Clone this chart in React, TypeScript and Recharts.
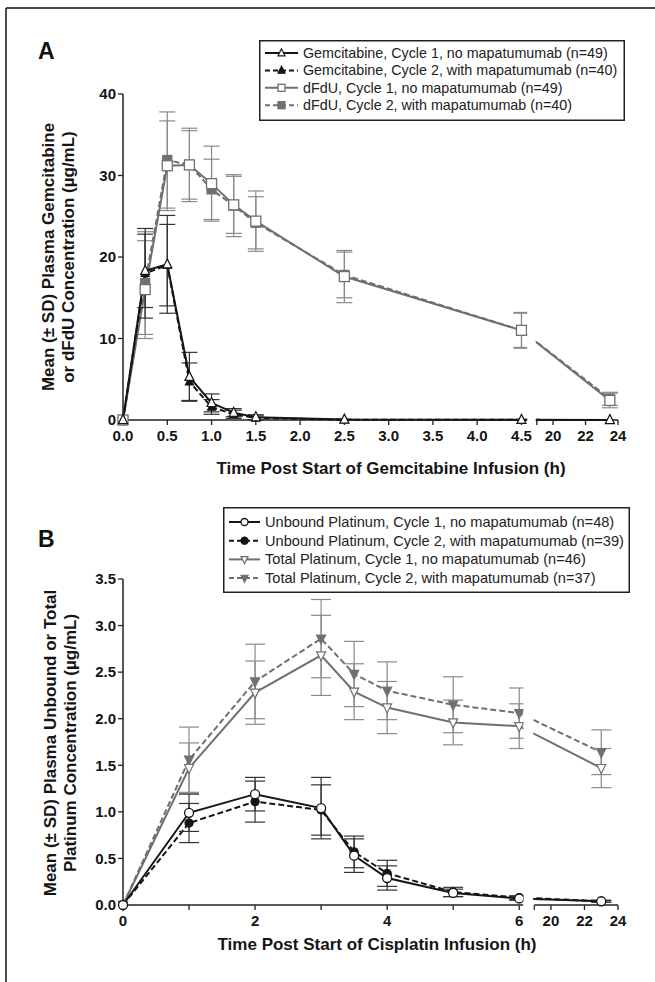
import React from 'react';
import { LineChart, Line, XAxis, YAxis, ErrorBar, ReferenceLine, ReferenceArea, Legend } from 'recharts';

// ---------- Panel A: gemcitabine / dFdU ----------
const timeA = [0, 0.25, 0.5, 0.75, 1.0, 1.25, 1.5, 2.5, 4.5, 23.5];
const gemC1 = [0, 18.3, 19.1, 5.3, 2.1, 0.9, 0.35, 0.05, 0.02, 0];
const gemC1Sd = [0, 4.5, 6.0, 3.0, 1.1, 0.5, 0.3, 0.05, 0.02, 0];
const gemC2 = [0, 18.0, 19.0, 4.7, 1.6, 0.7, 0.25, 0.03, 0.02, 0];
const gemC2Sd = [0, 5.5, 5.0, 2.3, 0.9, 0.5, 0.25, 0.03, 0.02, 0];
const dfduC1 = [0, 16.0, 31.2, 31.3, 29.0, 26.4, 24.4, 17.6, 11.0, 2.4];
const dfduC1Sd = [0, 6.0, 5.5, 4.2, 4.6, 3.5, 3.7, 3.2, 2.1, 0.9];
const dfduC2 = [0, 16.8, 31.9, 31.3, 28.3, 26.3, 24.2, 17.8, 11.0, 2.6];
const dfduC2Sd = [0, 6.3, 5.9, 4.5, 3.7, 3.8, 3.2, 2.8, 2.2, 0.8];
const xTicksA = [0, 0.5, 1, 1.5, 2, 2.5, 3, 3.5, 4, 4.5, 19, 20, 22, 24];
const xTickLabelsA = ['0.0', '0.5', '1.0', '1.5', '2.0', '2.5', '3.0', '3.5', '4.0', '4.5', '', '20', '22', '24'];
const yTicksA = [0, 10, 20, 30, 40];
const legendA = [
  'Gemcitabine, Cycle 1, no mapatumumab (n=49)',
  'Gemcitabine, Cycle 2, with mapatumumab (n=40)',
  'dFdU, Cycle 1, no mapatumumab (n=49)',
  'dFdU, Cycle 2, with mapatumumab (n=40)',
];

// ---------- Panel B: platinum ----------
const timeB = [0, 1, 2, 3, 3.5, 4, 5, 6, 23];
const unbC1 = [0, 0.99, 1.19, 1.04, 0.53, 0.29, 0.13, 0.07, 0.04];
const unbC1Sd = [0, 0.2, 0.18, 0.33, 0.18, 0.13, 0.04, 0.02, 0.01];
const unbC2 = [0, 0.88, 1.11, 1.02, 0.57, 0.34, 0.14, 0.08, 0.04];
const unbC2Sd = [0, 0.21, 0.22, 0.27, 0.17, 0.14, 0.05, 0.02, 0.01];
const totC1 = [0, 1.47, 2.28, 2.68, 2.29, 2.12, 1.96, 1.92, 1.47];
const totC1Sd = [0, 0.27, 0.34, 0.43, 0.3, 0.28, 0.24, 0.24, 0.21];
const totC2 = [0, 1.56, 2.4, 2.86, 2.48, 2.3, 2.15, 2.06, 1.64];
const totC2Sd = [0, 0.35, 0.4, 0.42, 0.35, 0.31, 0.3, 0.27, 0.24];
const xTicksB = [0, 1, 2, 3, 4, 5, 6, 19, 20, 22, 24];
const xTickLabelsB = ['0', '', '2', '', '4', '', '6', '', '20', '22', '24'];
const yTicksB = [0, 0.5, 1, 1.5, 2, 2.5, 3, 3.5];
const legendB = [
  'Unbound Platinum, Cycle 1, no mapatumumab (n=48)',
  'Unbound Platinum, Cycle 2, with mapatumumab (n=39)',
  'Total Platinum, Cycle 1, no mapatumumab (n=46)',
  'Total Platinum, Cycle 2, with mapatumumab (n=37)',
];

// ---------- broken-axis mapping (layout) ----------
const BREAK_A = { end: 4.5, axisEnd: 4.56, segStart: 19, segPos: 4.673, ratio: 0.1834 };
const BREAK_B = { end: 6, axisEnd: 6.06, segStart: 19, segPos: 6.227, ratio: 0.2538 };
const mapper = (b: typeof BREAK_A) => (t: number) =>
  t <= b.end ? t : b.segPos + (t - b.segStart) * b.ratio;
const virtA = mapper(BREAK_A);
const virtB = mapper(BREAK_B);

const BLACK = '#151515';
const GRAY = '#707070';
const GRAY_ERR = '#8a8a8a';
const FONT = '"Liberation Sans", Arial, Helvetica, sans-serif';

const rowsA = timeA.map((t, i) => ({
  x: virtA(t),
  gemC1: gemC1[i], gemC1Sd: gemC1Sd[i],
  gemC2: gemC2[i], gemC2Sd: gemC2Sd[i],
  dfduC1: dfduC1[i], dfduC1Sd: dfduC1Sd[i],
  dfduC2: dfduC2[i], dfduC2Sd: dfduC2Sd[i],
}));
const rowsB = timeB.map((t, i) => ({
  x: virtB(t),
  unbC1: unbC1[i], unbC1Sd: unbC1Sd[i],
  unbC2: unbC2[i], unbC2Sd: unbC2Sd[i],
  totC1: totC1[i], totC1Sd: totC1Sd[i],
  totC2: totC2[i], totC2Sd: totC2Sd[i],
}));

type Shape = 'triUp' | 'triDown' | 'square' | 'circle';

function Marker({ shape, cx, cy, size, fill, stroke }: { shape: Shape; cx: number; cy: number; size: number; fill: string; stroke: string }) {
  const s = size;
  if (shape === 'square') {
    return <rect x={cx - s / 2} y={cy - s / 2} width={s} height={s} fill={fill} stroke={stroke} strokeWidth={1.3} />;
  }
  if (shape === 'circle') {
    return <circle cx={cx} cy={cy} r={s / 2} fill={fill} stroke={stroke} strokeWidth={1.3} />;
  }
  if (shape === 'triUp') {
    const pts = `${cx},${cy - s * 0.6} ${cx - s / 2},${cy + s * 0.4} ${cx + s / 2},${cy + s * 0.4}`;
    return <polygon points={pts} fill={fill} stroke={stroke} strokeWidth={1.2} />;
  }
  const pts = `${cx},${cy + s * 0.6} ${cx - s / 2},${cy - s * 0.4} ${cx + s / 2},${cy - s * 0.4}`;
  return <polygon points={pts} fill={fill} stroke={stroke} strokeWidth={1.2} />;
}

const dotRenderer = (shape: Shape, size: number, fill: string, stroke: string) => (props: any) => {
  const { cx, cy, index } = props;
  if (cx == null || cy == null) return <g key={`d-${index}`} />;
  return (
    <g key={`d-${index}`}>
      <Marker shape={shape} cx={cx} cy={cy} size={size} fill={fill} stroke={stroke} />
    </g>
  );
};

type LegendItem = { label: string; shape: Shape; fill: string; stroke: string; dash?: string; size: number };

function LegendBox({ items, width, height, rowStart, rowGap, textX, fontSize }: { items: LegendItem[]; width: number; height: number; rowStart: number; rowGap: number; textX: number; fontSize: number }) {
  return (
    <svg width={width} height={height} style={{ display: 'block' }}>
      <rect x={0.75} y={0.75} width={width - 1.5} height={height - 1.5} fill="#fff" stroke="#222" strokeWidth={1.5} />
      {items.map((it, i) => {
        const y = rowStart + i * rowGap;
        const x0 = 6;
        const x1 = textX - 5;
        return (
          <g key={it.label}>
            <line x1={x0} y1={y} x2={x1} y2={y} stroke={it.stroke} strokeWidth={2} strokeDasharray={it.dash} />
            <Marker shape={it.shape} cx={(x0 + x1) / 2} cy={y} size={it.size} fill={it.fill} stroke={it.stroke} />
            <text x={textX} y={y} dominantBaseline="central" fontFamily={FONT} fontSize={fontSize} fill="#222">
              {it.label}
            </text>
          </g>
        );
      })}
    </svg>
  );
}

const legendItemsA: LegendItem[] = [
  { label: legendA[0], shape: 'triUp', fill: '#fff', stroke: BLACK, size: 7 },
  { label: legendA[1], shape: 'triUp', fill: BLACK, stroke: BLACK, dash: '5 3', size: 7 },
  { label: legendA[2], shape: 'square', fill: '#fff', stroke: GRAY, size: 7 },
  { label: legendA[3], shape: 'square', fill: GRAY, stroke: GRAY, dash: '5 3', size: 7 },
];
const legendItemsB: LegendItem[] = [
  { label: legendB[0], shape: 'circle', fill: '#fff', stroke: BLACK, size: 7 },
  { label: legendB[1], shape: 'circle', fill: BLACK, stroke: BLACK, dash: '5 3', size: 7 },
  { label: legendB[2], shape: 'triDown', fill: '#fff', stroke: GRAY, size: 7 },
  { label: legendB[3], shape: 'triDown', fill: GRAY, stroke: GRAY, dash: '5 3', size: 7 },
];

const tickStyle = { fontFamily: FONT, fontSize: 15, fontWeight: 700, fill: '#151515' };

function labelFor(ticks: number[], labels: string[], virt: (t: number) => number) {
  return (v: number) => {
    const i = ticks.findIndex((t) => Math.abs(virt(t) - v) < 1e-6);
    return i >= 0 ? labels[i] : '';
  };
}

function PanelA() {
  const maxX = virtA(24);
  return (
    <LineChart width={655} height={490} data={rowsA} margin={{ top: 94, right: 37, bottom: 40, left: 63 }}>
      <XAxis
        dataKey="x"
        type="number"
        domain={[0, maxX]}
        ticks={xTicksA.map(virtA)}
        tickFormatter={labelFor(xTicksA, xTickLabelsA, virtA)}
        axisLine={false}
        tickLine={{ stroke: '#222', strokeWidth: 1.3 }}
        tickSize={5}
        tickMargin={5}
        height={30}
        tick={tickStyle}
        interval={0}
      />
      <YAxis
        type="number"
        domain={[0, 40]}
        ticks={yTicksA}
        width={60}
        axisLine={{ stroke: '#222', strokeWidth: 1.5 }}
        tickLine={{ stroke: '#222', strokeWidth: 1.3 }}
        tickSize={5}
        tick={tickStyle}
        interval={0}
      />
      <ReferenceLine segment={[{ x: 0, y: 0 }, { x: BREAK_A.axisEnd, y: 0 }]} stroke="#222" strokeWidth={1.5} />
      <ReferenceLine segment={[{ x: virtA(19), y: 0 }, { x: maxX, y: 0 }]} stroke="#222" strokeWidth={1.5} />
      <Line dataKey="dfduC2" stroke={GRAY} strokeWidth={2} strokeDasharray="6 3" isAnimationActive={false} dot={dotRenderer('square', 9, GRAY, GRAY)}>
        <ErrorBar dataKey="dfduC2Sd" width={8} stroke={GRAY_ERR} strokeWidth={1.2} />
      </Line>
      <Line dataKey="dfduC1" stroke={GRAY} strokeWidth={2} isAnimationActive={false} dot={dotRenderer('square', 10, '#fff', GRAY)}>
        <ErrorBar dataKey="dfduC1Sd" width={8} stroke={GRAY_ERR} strokeWidth={1.2} />
      </Line>
      <Line dataKey="gemC2" stroke={BLACK} strokeWidth={2} strokeDasharray="6 3" isAnimationActive={false} dot={dotRenderer('triUp', 8, BLACK, BLACK)}>
        <ErrorBar dataKey="gemC2Sd" width={8} stroke="#333" strokeWidth={1.2} />
      </Line>
      <Line dataKey="gemC1" stroke={BLACK} strokeWidth={2} isAnimationActive={false} dot={dotRenderer('triUp', 9, '#fff', BLACK)}>
        <ErrorBar dataKey="gemC1Sd" width={8} stroke="#333" strokeWidth={1.2} />
      </Line>
      <ReferenceArea
        x1={BREAK_A.axisEnd + 0.005}
        x2={virtA(19) - 0.012}
        y1={-0.6}
        y2={40}
        ifOverflow="visible"
        fill="#fff"
        fillOpacity={1}
        stroke="none"
        zIndex={2000}
      />
      <Legend
        layout="horizontal"
        verticalAlign="middle"
        align="center"
        wrapperStyle={{ left: 259, top: 40, width: 366, height: 81 }}
        content={() => (
          <LegendBox items={legendItemsA} width={366} height={81} rowStart={13} rowGap={17.4} textX={44} fontSize={14.3} />
        )}
      />
    </LineChart>
  );
}

function PanelB() {
  const maxX = virtB(24);
  return (
    <LineChart width={655} height={492} data={rowsB} margin={{ top: 89, right: 37, bottom: 47, left: 63 }}>
      <XAxis
        dataKey="x"
        type="number"
        domain={[0, maxX]}
        ticks={xTicksB.map(virtB)}
        tickFormatter={labelFor(xTicksB, xTickLabelsB, virtB)}
        axisLine={false}
        tickLine={{ stroke: '#222', strokeWidth: 1.3 }}
        tickSize={5}
        tickMargin={5}
        height={30}
        tick={tickStyle}
        interval={0}
      />
      <YAxis
        type="number"
        domain={[0, 3.5]}
        ticks={yTicksB}
        tickFormatter={(v: number) => v.toFixed(1)}
        width={60}
        axisLine={{ stroke: '#222', strokeWidth: 1.5 }}
        tickLine={{ stroke: '#222', strokeWidth: 1.3 }}
        tickSize={5}
        tick={tickStyle}
        interval={0}
      />
      <ReferenceLine segment={[{ x: 0, y: 0 }, { x: BREAK_B.axisEnd, y: 0 }]} stroke="#222" strokeWidth={1.5} />
      <ReferenceLine segment={[{ x: virtB(19), y: 0 }, { x: maxX, y: 0 }]} stroke="#222" strokeWidth={1.5} />
      <Line dataKey="totC2" stroke={GRAY} strokeWidth={2} strokeDasharray="6 3" isAnimationActive={false} dot={dotRenderer('triDown', 9, GRAY, GRAY)}>
        <ErrorBar dataKey="totC2Sd" width={10} stroke={GRAY_ERR} strokeWidth={1.2} />
      </Line>
      <Line dataKey="totC1" stroke={GRAY} strokeWidth={2} isAnimationActive={false} dot={dotRenderer('triDown', 9, '#fff', GRAY)}>
        <ErrorBar dataKey="totC1Sd" width={10} stroke={GRAY_ERR} strokeWidth={1.2} />
      </Line>
      <Line dataKey="unbC2" stroke={BLACK} strokeWidth={2} strokeDasharray="6 3" isAnimationActive={false} dot={dotRenderer('circle', 8, BLACK, BLACK)}>
        <ErrorBar dataKey="unbC2Sd" width={10} stroke="#333" strokeWidth={1.2} />
      </Line>
      <Line dataKey="unbC1" stroke={BLACK} strokeWidth={2} isAnimationActive={false} dot={dotRenderer('circle', 9, '#fff', BLACK)}>
        <ErrorBar dataKey="unbC1Sd" width={10} stroke="#333" strokeWidth={1.2} />
      </Line>
      <ReferenceArea
        x1={BREAK_B.axisEnd + 0.005}
        x2={virtB(19) - 0.015}
        y1={-0.06}
        y2={3.5}
        ifOverflow="visible"
        fill="#fff"
        fillOpacity={1}
        stroke="none"
        zIndex={2000}
      />
      <Legend
        layout="horizontal"
        verticalAlign="middle"
        align="center"
        wrapperStyle={{ left: 223, top: 17, width: 407, height: 86 }}
        content={() => (
          <LegendBox items={legendItemsB} width={407} height={86} rowStart={15} rowGap={18.7} textX={42} fontSize={14.6} />
        )}
      />
    </LineChart>
  );
}

export default function App() {
  const titleStyle = { fontFamily: FONT, fontSize: 17, fontWeight: 700, fill: '#151515' } as const;
  return (
    <div style={{ position: 'absolute', left: 0, top: 0, width: 655, height: 982, background: '#fff' }}>
      <div style={{ position: 'absolute', left: 0, top: 0 }}>
        <PanelA />
      </div>
      <div style={{ position: 'absolute', left: 0, top: 490 }}>
        <PanelB />
      </div>
      <svg width={655} height={982} style={{ position: 'absolute', left: 0, top: 0, pointerEvents: 'none' }}>
        <line x1={6} y1={8} x2={655} y2={8} stroke="#111" strokeWidth={1.5} />
        <line x1={6} y1={8} x2={6} y2={982} stroke="#111" strokeWidth={1.5} />
        <text x={38} y={59} fontFamily={FONT} fontSize={23} fontWeight={700} fill="#111">A</text>
        <text x={38} y={547} fontFamily={FONT} fontSize={23} fontWeight={700} fill="#111">B</text>
        <text x={391} y={468} textAnchor="middle" dominantBaseline="central" {...titleStyle}>
          Time Post Start of Gemcitabine Infusion (h)
        </text>
        <text x={377} y={944} textAnchor="middle" dominantBaseline="central" {...titleStyle}>
          Time Post Start of Cisplatin Infusion (h)
        </text>
        <g transform="rotate(-90 48 257)">
          <text x={48} y={257} textAnchor="middle" dominantBaseline="central" {...titleStyle}>
            Mean (± SD) Plasma Gemcitabine
          </text>
        </g>
        <g transform="rotate(-90 68 257)">
          <text x={68} y={257} textAnchor="middle" dominantBaseline="central" {...titleStyle}>
            or dFdU Concentration (µg/mL)
          </text>
        </g>
        <g transform="rotate(-90 50 743)">
          <text x={50} y={743} textAnchor="middle" dominantBaseline="central" {...titleStyle}>
            Mean (± SD) Plasma Unbound or Total
          </text>
        </g>
        <g transform="rotate(-90 70 743)">
          <text x={70} y={743} textAnchor="middle" dominantBaseline="central" {...titleStyle}>
            Platinum Concentration (µg/mL)
          </text>
        </g>
      </svg>
    </div>
  );
}
